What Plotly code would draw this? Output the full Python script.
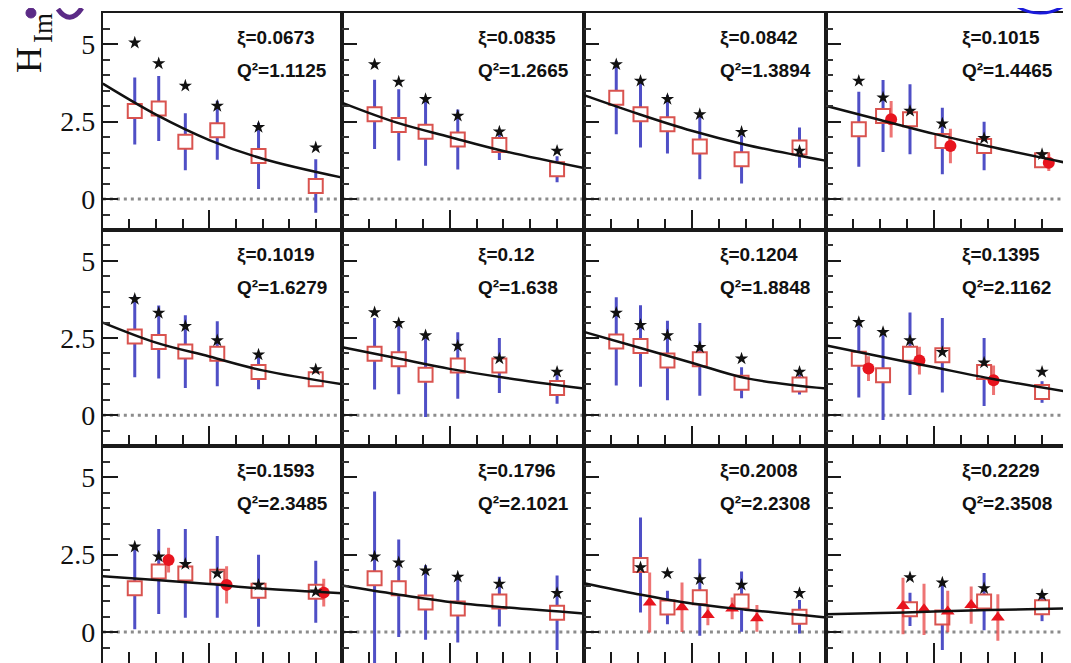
import plotly.graph_objects as go

# ---------------- data ----------------
T = [0.22, 0.31, 0.41, 0.53, 0.685, 0.9]          # -t positions of the points
CURVE_T = [0.1, 0.3, 0.5, 0.7, 1.0]               # sample positions of the fit curve

XI = ["0.0673", "0.0835", "0.0842", "0.1015", "0.1019", "0.12",
      "0.1204", "0.1395", "0.1593", "0.1796", "0.2008", "0.2229"]
Q2 = ["1.1125", "1.2665", "1.3894", "1.4465", "1.6279", "1.638",
      "1.8848", "2.1162", "2.3485", "2.1021", "2.2308", "2.3508"]

PT_X = [T, T, T, T, T, T, T, T, T, T, T[1:], T[2:]]

STAR_Y = [
    [5.04, 4.37, 3.65, 3.00, 2.32, 1.66],
    [4.34, 3.78, 3.22, 2.68, 2.17, 1.55],
    [4.34, 3.81, 3.22, 2.73, 2.16, 1.55],
    [3.81, 3.27, 2.84, 2.43, 1.96, 1.44],
    [3.76, 3.31, 2.88, 2.42, 1.96, 1.48],
    [3.33, 2.98, 2.58, 2.24, 1.83, 1.40],
    [3.31, 2.92, 2.58, 2.20, 1.83, 1.40],
    [3.01, 2.69, 2.42, 2.04, 1.70, 1.40],
    [2.75, 2.43, 2.19, 1.89, 1.52, 1.30],
    [2.43, 2.24, 1.98, 1.78, 1.55, 1.25],
    [2.08, 1.89, 1.70, 1.52, 1.25],
    [1.76, 1.59, 1.41, 1.19],
]

SQ_Y = [
    [2.84, 2.92, 1.85, 2.22, 1.39, 0.42],
    [2.73, 2.39, 2.17, 1.92, 1.74, 0.96],
    [3.27, 2.73, 2.41, 1.69, 1.28, 1.66],
    [2.25, 2.68, 2.57, 1.87, 1.71, 1.25],
    [2.55, 2.37, 2.06, 1.99, 1.40, 1.16],
    [1.99, 1.81, 1.31, 1.61, 1.61, 0.88],
    [2.39, 2.24, 1.77, 1.81, 1.05, 0.99],
    [1.83, 1.29, 1.99, 1.94, 1.40, 0.75],
    [1.41, 1.95, 1.89, 1.78, 1.33, 1.30],
    [1.73, 1.41, 0.95, 0.76, 0.98, 0.62],
    [2.16, 0.79, 1.12, 0.98, 0.49],
    [0.73, 0.47, 0.98, 0.80],
]

SQ_ERR = [
    [1.08, 1.05, 0.92, 0.95, 1.07, 0.86],
    [1.12, 1.15, 1.10, 0.97, 0.48, 0.42],
    [1.18, 1.07, 0.94, 1.05, 0.78, 0.65],
    [1.21, 1.16, 1.13, 1.07, 0.78, 0.20],
    [1.32, 1.18, 1.18, 1.05, 0.56, 0.24],
    [1.16, 1.13, 1.37, 1.08, 0.89, 0.51],
    [1.43, 1.32, 1.29, 1.18, 0.50, 0.32],
    [1.26, 1.45, 1.34, 1.21, 1.10, 0.35],
    [1.32, 1.37, 1.43, 1.32, 1.16, 1.00],
    [2.80, 1.57, 1.20, 1.10, 0.80, 1.20],
    [1.53, 0.54, 1.24, 0.97, 0.54],
    [0.54, 1.05, 0.92, 0.45],
]

RED_X = [[], [], [], [0.34, 0.56, 0.925], [], [], [], [0.256, 0.445, 0.72],
         [0.347, 0.565, 0.93], [], [0.344, 0.464, 0.56, 0.65, 0.742],
         [0.384, 0.462, 0.55, 0.637, 0.736]]
RED_Y = [[], [], [], [2.57, 1.71, 1.17], [], [], [], [1.51, 1.77, 1.13],
         [2.32, 1.52, 1.27], [], [0.95, 0.80, 0.55, 0.76, 0.44],
         [0.84, 0.73, 0.66, 0.87, 0.47]]
RED_ERR = [[], [], [], [0.59, 0.56, 0.27], [], [], [], [0.40, 0.45, 0.48],
           [0.40, 0.60, 0.45], [], [0.97, 0.80, 0.33, 0.35, 0.43],
           [0.91, 0.83, 0.67, 0.60, 0.75]]
RED_SYMBOL = ["circle"] * 10 + ["triangle-up", "triangle-up"]

CURVE_Y = [
    [3.72, 2.72, 1.90, 1.30, 0.69],
    [3.10, 2.47, 2.00, 1.55, 1.00],
    [3.35, 2.75, 2.20, 1.75, 1.23],
    [3.00, 2.55, 2.10, 1.70, 1.15],
    [3.00, 2.35, 1.90, 1.45, 1.00],
    [2.20, 1.85, 1.50, 1.22, 0.86],
    [2.70, 2.20, 1.70, 1.20, 0.86],
    [2.26, 1.90, 1.55, 1.20, 0.75],
    [1.80, 1.68, 1.55, 1.40, 1.25],
    [1.50, 1.22, 0.97, 0.80, 0.60],
    [1.57, 1.22, 0.92, 0.72, 0.47],
    [0.57, 0.61, 0.66, 0.71, 0.76],
]

Y_TICKS = [0, 2.5, 5]
Y_TICK_TEXT = ["0", "2.5", "5"]

# ---------------- layout geometry (pixels, page coords) ----------------
OFF = 8                      # the page body offsets the figure by 8 px
W, H = 1071 - OFF, 663 - OFF
COL_EDGES = [103, 343, 585, 828, 1071]
ROW_EDGES = [13, 230, 446, 663]


def px(x):
    return (x - OFF) / W


def py(y):
    return 1 - (y - OFF) / H


BLUE = "#4f4fc6"
SQ_RED = "#d9534f"
RED = "#e8141e"
RED_BAR = "rgba(232,70,70,0.75)"

fig = go.Figure()
layout = dict(
    width=W, height=H, margin=dict(l=0, r=0, t=0, b=0),
    paper_bgcolor="white", plot_bgcolor="white", showlegend=False,
)
shapes = []
annotations = []

for i in range(12):
    r, c = divmod(i, 4)
    k = i + 1
    xs = "x" if k == 1 else f"x{k}"
    ys = "y" if k == 1 else f"y{k}"
    xdom = [max(0, px(COL_EDGES[c])), min(1, px(COL_EDGES[c + 1]))]
    ydom = [max(0, py(ROW_EDGES[r + 1])), min(1, py(ROW_EDGES[r]))]

    layout["xaxis" if k == 1 else f"xaxis{k}"] = dict(
        domain=xdom, anchor=ys, range=[0.1, 1.0],
        showgrid=False, zeroline=False, showline=True, mirror=True,
        linecolor="#1a1a1a", linewidth=2,
        ticks="inside", tickvals=[0.5], ticklen=20, tickwidth=2, tickcolor="#1a1a1a",
        showticklabels=False,
        minor=dict(ticks="inside", dtick=0.1, tick0=0.1, ticklen=11, tickwidth=2,
                   tickcolor="#1a1a1a", showgrid=False),
    )
    layout["yaxis" if k == 1 else f"yaxis{k}"] = dict(
        domain=ydom, anchor=xs, range=[-1, 6],
        showgrid=False, zeroline=False, showline=True, mirror=True,
        linecolor="#1a1a1a", linewidth=2,
        ticks="inside", tickvals=Y_TICKS, ticktext=Y_TICK_TEXT,
        ticklen=15, tickwidth=2, tickcolor="#1a1a1a",
        showticklabels=(c == 0),
        tickfont=dict(family="Liberation Serif", size=28, color="#111"),
        minor=dict(ticks="inside", dtick=0.5, tick0=0, ticklen=7, tickwidth=2,
                   tickcolor="#333", showgrid=False),
    )

    # dotted zero line
    shapes.append(dict(type="line", xref=f"{xs} domain", yref=ys,
                       x0=0, x1=1, y0=0, y1=0,
                       line=dict(color="#8c8c8c", width=3, dash="3px,4px"),
                       layer="below"))

    # open squares with blue error bars
    fig.add_trace(go.Scatter(
        x=PT_X[i], y=SQ_Y[i], xaxis=xs, yaxis=ys, mode="markers",
        marker=dict(symbol="square", size=14, color="white",
                    line=dict(color=SQ_RED, width=2)),
        error_y=dict(type="data", array=SQ_ERR[i], color=BLUE,
                     thickness=3, width=0),
    ))
    # red filled points
    if RED_X[i]:
        fig.add_trace(go.Scatter(
            x=RED_X[i], y=RED_Y[i], xaxis=xs, yaxis=ys, mode="markers",
            marker=dict(symbol=RED_SYMBOL[i], size=12, color=RED),
            error_y=dict(type="data", array=RED_ERR[i], color=RED_BAR,
                         thickness=3, width=0),
        ))
    # fit curve
    fig.add_trace(go.Scatter(
        x=CURVE_T, y=CURVE_Y[i], xaxis=xs, yaxis=ys, mode="lines",
        line=dict(color="#111", width=2.5, shape="spline", smoothing=1.0),
    ))
    # stars
    fig.add_trace(go.Scatter(
        x=PT_X[i], y=STAR_Y[i], xaxis=xs, yaxis=ys, mode="markers",
        marker=dict(symbol="star", size=10, color="#111"),
    ))

    # panel labels
    hgt = ROW_EDGES[r + 1] - ROW_EDGES[r]
    for txt, off in ((f"ξ=" + XI[i], 25), ("Q²=" + Q2[i], 57)):
        annotations.append(dict(
            text=f"<b>{txt}</b>", xref=f"{xs} domain", yref=f"{ys} domain",
            x=0.552, y=1 - off / hgt, xanchor="left", yanchor="middle",
            showarrow=False,
            font=dict(family="Liberation Sans", size=19, color="#111"),
        ))

# axis title (H with subscript Im), rotated
annotations.append(dict(
    text="H", xref="paper", yref="paper", x=px(29), y=py(60),
    xanchor="center", yanchor="middle", textangle=-90, showarrow=False,
    font=dict(family="Liberation Serif", size=36, color="#111"),
))
annotations.append(dict(
    text="Im", xref="paper", yref="paper", x=px(43), y=py(28),
    xanchor="center", yanchor="middle", textangle=-90, showarrow=False,
    font=dict(family="Liberation Serif", size=27, color="#111"),
))

# decorations at the cut-off top edge
shapes.append(dict(type="circle", xref="paper", yref="paper",
                   x0=px(1042 - 43), x1=px(1042 + 43),
                   y0=py(13), y1=py(-73),
                   line=dict(color="#1a1adb", width=3)))
shapes.append(dict(type="circle", xref="paper", yref="paper",
                   x0=px(26), x1=px(36), y0=py(18), y1=py(8),
                   fillcolor="#5b2a86", line=dict(color="#5b2a86", width=1)))
pp = lambda x, y: f"{px(x):.5f},{py(y):.5f}"
shapes.append(dict(type="path", xref="paper", yref="paper",
                   path=f"M {pp(58, 9)} Q {pp(70, 26)} {pp(82, 8)}",
                   line=dict(color="#5b2a86", width=5)))

layout["shapes"] = shapes
layout["annotations"] = annotations
fig.update_layout(**layout)

fig.write_html("out.html")
